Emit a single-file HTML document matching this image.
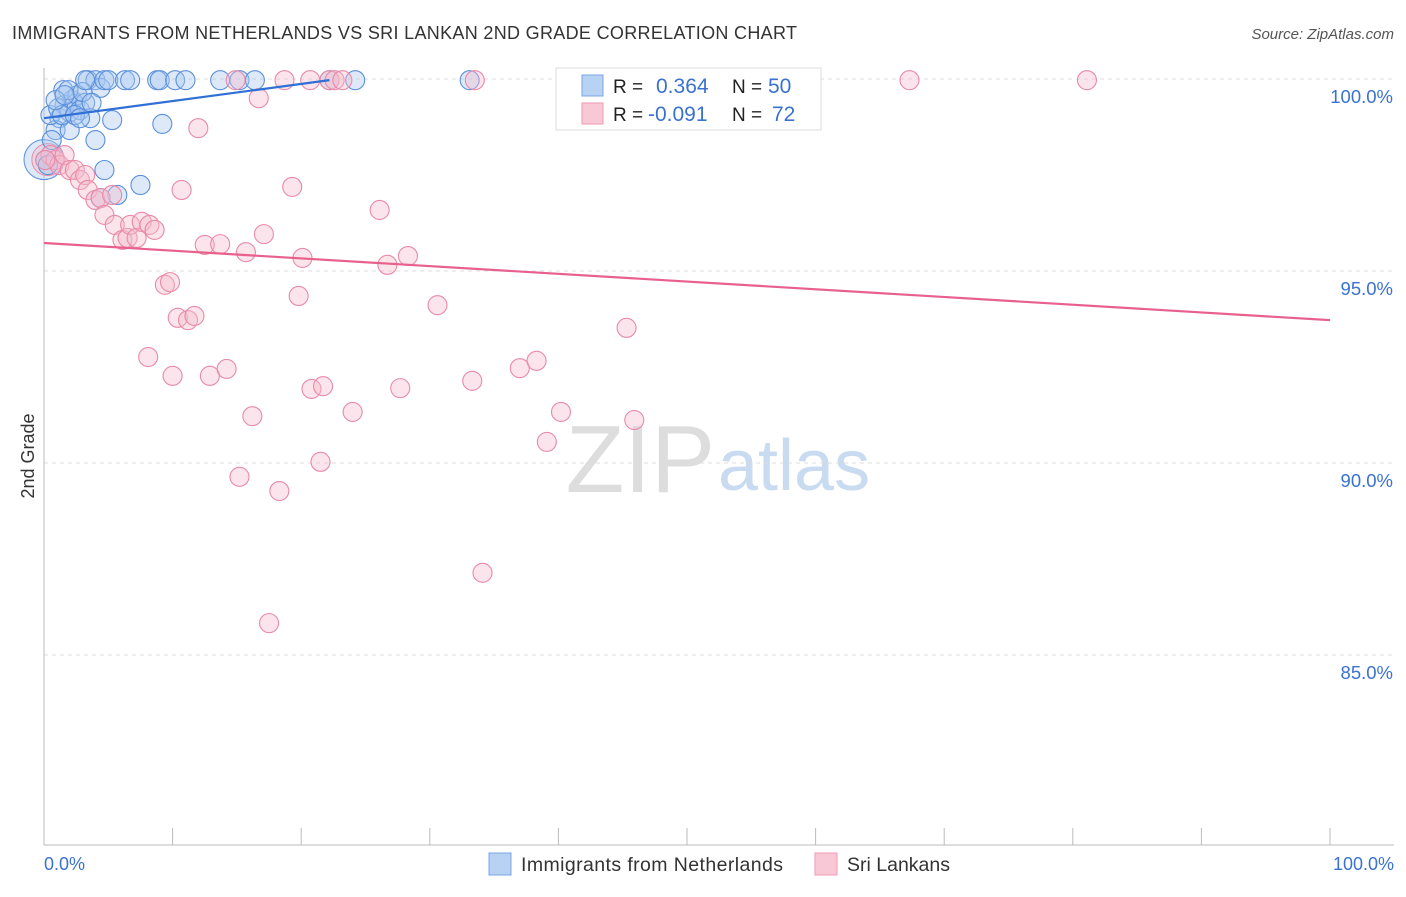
<!DOCTYPE html>
<html><head><meta charset="utf-8"><style>
body{margin:0;background:#fff;font-family:"Liberation Sans",sans-serif}
svg text{font-family:"Liberation Sans",sans-serif}
</style></head><body>
<svg id="chart" width="1406" height="892">
<text x="12" y="39" font-size="18" fill="#333" textLength="785">IMMIGRANTS FROM NETHERLANDS VS SRI LANKAN 2ND GRADE CORRELATION CHART</text>
<text x="1394" y="39" font-size="15" fill="#555" font-style="italic" text-anchor="end">Source: ZipAtlas.com</text>
<text x="715" y="492" font-size="96" fill="#ddd" text-anchor="end" font-family="Liberation Serif">ZIP</text>
<text x="718" y="490" font-size="72" fill="#c9dbf0">atlas</text>
<g id="grid"></g><g id="axes"></g><g id="pts"></g><g id="lines"></g>
<text transform="translate(34,456) rotate(-90)" font-size="18" fill="#333" text-anchor="middle">2nd Grade</text>
<text x="44" y="870" font-size="18" fill="#3a72d0">0.0%</text>
<text x="1394" y="870" font-size="18" fill="#3a72d0" text-anchor="end">100.0%</text>
<g>
<rect x="556" y="68" width="265" height="62" fill="#fff" stroke="#ddd"/>
<rect x="582" y="75" width="21" height="21" fill="#b8d2f4" stroke="#7aa6e6"/>
<rect x="582" y="103" width="21" height="21" fill="#f9c8d6" stroke="#ee9ab4"/>
<text x="613" y="93" font-size="19" fill="#222">R =</text><text x="656" y="93" font-size="21" fill="#3a72d0">0.364</text>
<text x="732" y="93" font-size="19" fill="#222">N =</text><text x="768" y="93" font-size="21" fill="#3a72d0">50</text>
<text x="613" y="121" font-size="19" fill="#222">R =</text><text x="648" y="121" font-size="21" fill="#3a72d0">-0.091</text>
<text x="732" y="121" font-size="19" fill="#222">N =</text><text x="772" y="121" font-size="21" fill="#3a72d0">72</text>
</g>
<g>
<rect x="489" y="853" width="22" height="22" fill="#b8d2f4" stroke="#7aa6e6"/>
<text x="521" y="871" font-size="19.5" fill="#333" textLength="262">Immigrants from Netherlands</text>
<rect x="815" y="853" width="22" height="22" fill="#f9c8d6" stroke="#ee9ab4"/>
<text x="847" y="871" font-size="19.5" fill="#333" textLength="103">Sri Lankans</text>
</g>
</svg>
<script>
const yTicks=[100,95,90,85];
const yTickLabels=["100.0%","95.0%","90.0%","85.0%"];
const xTicks=[0,10,20,30,40,50,60,70,80,90,100];
const blueX=[1.2,1.5,1.6,2.0,2.2,2.4,2.6,2.8,3.2,3.4,4.0,4.4,4.7,5.0,5.3,6.3,6.7,8.8,9.0,10.2,11.0,13.7,15.2,16.4,22.2,24.2,33.1,0.9,2.0,0.5,0.6,1.1,1.4,1.9,3.0,3.6,4.0,4.7,5.7,7.5,9.2,4.4,0.1,0.3,2.4,2.8,3.7,0.9,1.6,3.2];
const blueY=[98.98,99.71,99.32,99.14,99.45,99.35,99.58,99.19,99.38,99.97,99.97,99.77,99.97,99.97,98.93,99.97,99.97,99.97,99.97,99.97,99.97,99.97,99.97,99.97,99.97,99.97,99.97,98.67,98.67,99.06,98.41,99.24,99.06,99.71,99.66,98.98,98.41,97.63,96.98,97.24,98.83,96.90,97.89,97.76,99.06,98.98,99.38,99.45,99.58,99.97];
const pinkX=[0.5,0.9,1.2,1.6,2.0,2.4,2.8,3.2,3.4,4.0,4.4,4.7,5.3,5.5,6.1,6.5,6.7,7.2,7.6,8.2,8.6,8.1,9.4,9.8,10.0,10.4,10.7,11.2,11.7,12.0,12.5,12.9,13.7,14.2,14.9,15.2,15.7,16.2,16.7,17.1,17.5,18.3,18.7,19.3,19.8,20.1,20.8,21.5,21.7,20.7,22.2,22.6,23.2,24.0,26.1,26.7,27.7,28.3,30.6,33.3,33.5,34.1,37.0,38.3,39.1,40.2,41.5,45.3,45.9,67.3,81.1,0.1];
const pinkY=[98.02,97.89,97.76,98.02,97.63,97.63,97.37,97.5,97.11,96.85,96.9,96.46,96.98,96.2,95.81,95.86,96.2,95.86,96.28,96.2,96.07,92.76,94.64,94.71,92.27,93.78,97.11,93.72,93.83,98.72,95.68,92.27,95.70,92.45,99.97,89.64,95.49,91.22,99.5,95.96,85.83,89.27,99.97,97.19,94.35,95.34,91.93,90.03,92.0,99.97,99.97,99.97,99.97,91.33,96.59,95.16,91.95,95.39,94.11,92.14,99.97,87.14,92.47,92.66,90.55,91.33,99.97,93.52,91.12,99.97,99.97,97.89];
const blueTrend=[[0,98.98],[22.2,99.97]];
const pinkTrend=[[0,95.73],[100,93.72]];
const X=v=>44+v*12.86, Y=v=>79+(100-v)*38.4;
const NS="http://www.w3.org/2000/svg";
function mk(parent,tag,attrs){const e=document.createElementNS(NS,tag);for(const k in attrs)e.setAttribute(k,attrs[k]);document.getElementById(parent).appendChild(e);return e;}
yTicks.forEach((t,i)=>{
 const l=mk('grid','line',{x1:44,x2:1394,y1:Y(t),y2:Y(t),stroke:'#ddd','stroke-dasharray':'4,4'});
 
 
 const tx=mk('grid','text',{x:1393,y:Y(t)+24,'font-size':18.5,fill:'#3a72d0','text-anchor':'end'});
 tx.textContent=yTickLabels[i];
 
 
});
const ax=mk('axes','line',{x1:44,x2:44,y1:68,y2:845,stroke:'#bbb'});


const bx=mk('axes','line',{x1:44,x2:1394,y1:845,y2:845,stroke:'#bbb'});


xTicks.forEach(t=>{const l=mk('axes','line',{x1:X(t),x2:X(t),y1:828,y2:845,stroke:'#bbb'});
 
 });
const bigB=mk('pts','circle',{cx:X(0),cy:Y(97.9),r:20,fill:'#a9c8f0','fill-opacity':0.4,stroke:'#5a90dc','stroke-width':1});


const bigP=mk('pts','circle',{cx:X(0.3),cy:Y(97.9),r:16,fill:'#f6bccd','fill-opacity':0.4,stroke:'#e88aa8','stroke-width':1});


function pts(xs,ys,fill,stroke,name){xs.forEach((x,i)=>{const c=mk('pts','circle',{cx:X(x),cy:Y(ys[i]),r:9.5,fill:fill,'fill-opacity':0.4,stroke:stroke,'stroke-width':1.1});
 
 });}
pts(blueX,blueY,'#a9c8f0','#5a90dc','point-netherlands');
pts(pinkX,pinkY,'#f6bccd','#e88aa8','point-srilankans');
function trend(t,color,name){const l=mk('lines','line',{x1:X(t[0][0]),y1:Y(t[0][1]),x2:X(t[1][0]),y2:Y(t[1][1]),stroke:color,'stroke-width':2.2});
 
 }
trend(blueTrend,'#2f6fd6','trend-line-netherlands');
trend(pinkTrend,'#e8608c','trend-line-srilankans');
</script>
</body></html>
